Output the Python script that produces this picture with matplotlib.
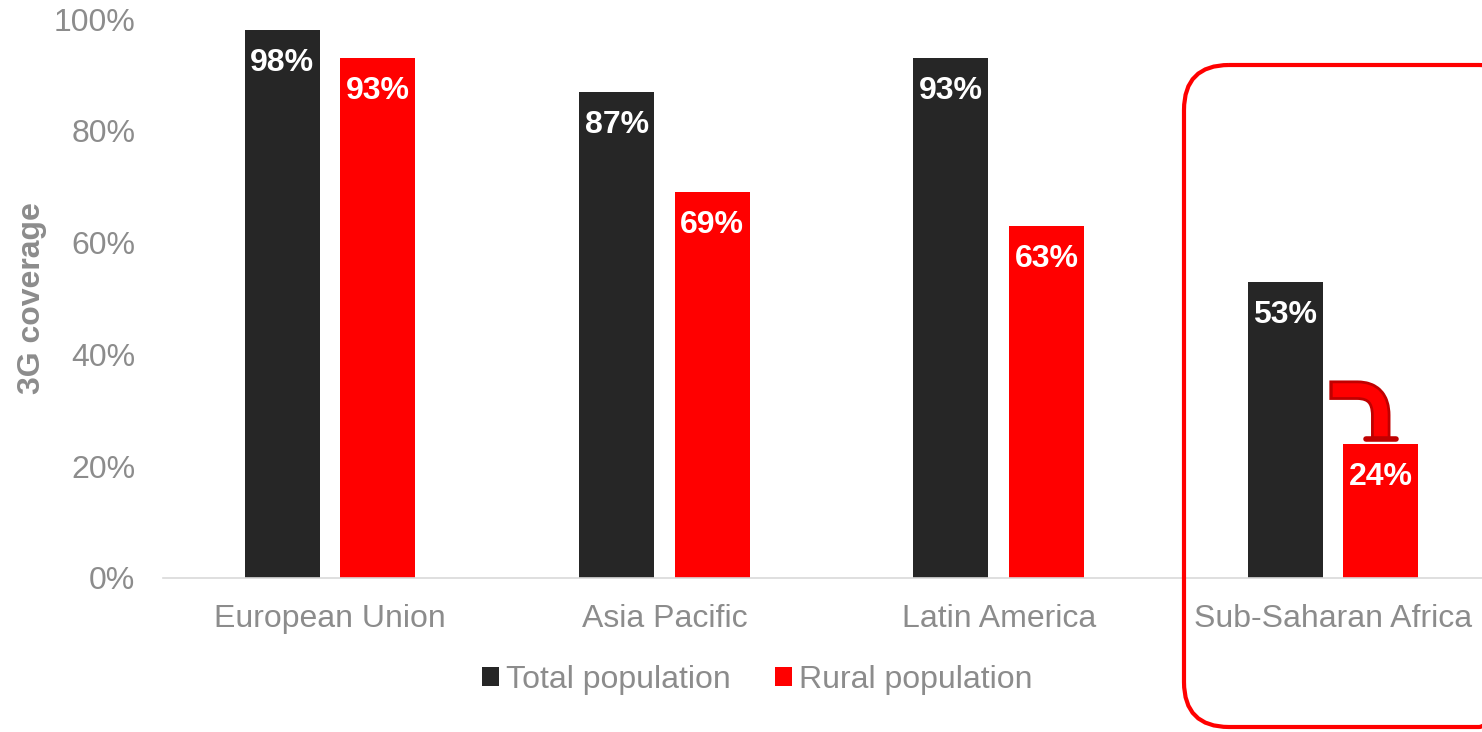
import numpy as np
from matplotlib import pyplot as plt
from matplotlib.patches import FancyBboxPatch
from matplotlib.path import Path
from matplotlib.patches import PathPatch

plt.rcParams['font.family'] = ['Liberation Sans', 'DejaVu Sans']

regions = ['European Union', 'Asia Pacific', 'Latin America', 'Sub-Saharan Africa']
total_pop = [98, 87, 93, 53]
rural_pop = [93, 69, 63, 24]

grey = '#8c8c8c'
dark = '#262626'
red = '#ff0000'

fig = plt.figure(figsize=(14.82, 7.32), dpi=100)
ax = fig.add_axes([0.11, 0.2104, 0.9022, 0.7636])

x = np.arange(len(regions))
w = 0.2245
off = 0.143
b1 = ax.bar(x - off, total_pop, w, color=dark, label='Total population')
b2 = ax.bar(x + off, rural_pop, w, color=red, label='Rural population')

for bars, vals in [(b1, total_pop), (b2, rural_pop)]:
    for b, v in zip(bars, vals):
        ax.annotate('%d%%' % v, (b.get_x() + b.get_width() / 2, v),
                    xytext=(0, -13), textcoords='offset points',
                    ha='center', va='top', color='white',
                    fontsize=23, fontweight='bold')

ax.set_xlim(-0.5, 3.5)
ax.set_ylim(0, 100)
ax.set_yticks(range(0, 101, 20))
ax.set_yticklabels(['%d%%' % t for t in range(0, 101, 20)])
ax.set_xticks(x)
ax.set_xticklabels(regions)
ax.tick_params(axis='both', length=0, labelsize=23, colors=grey)
ax.tick_params(axis='x', pad=19)
ax.tick_params(axis='y', pad=20)
for s in ['top', 'right', 'left']:
    ax.spines[s].set_visible(False)
ax.spines['bottom'].set_color('#d9d9d9')
ax.spines['bottom'].set_linewidth(1.2)
fig.text(32 / 1482, 1 - 298 / 732, '3G coverage', rotation=90, ha='center', va='center',
         fontsize=23, fontweight='bold', color=grey)

leg = fig.legend(loc='center', bbox_to_anchor=(0.511, 0.071), ncol=2,
                 frameon=False, fontsize=23, handlelength=0.53, handleheight=0.53,
                 handletextpad=0.2, columnspacing=1.4)
for t in leg.get_texts():
    t.set_color(grey)

# bent arrow from total bar down to the rural bar (Sub-Saharan Africa)
i = 3
xs = x[i] - off + w / 2 + 0.03
xe = x[i] + off
ytop = 33.6
yend = rural_pop[i] + 0.6
rx, ry = 0.07, 4.5
verts = [(xs, ytop), (xe - rx, ytop), (xe, ytop), (xe, ytop - ry), (xe, yend)]
codes = [Path.MOVETO, Path.LINETO, Path.CURVE3, Path.CURVE3, Path.LINETO]
outer = Path([(xs - 0.01, ytop)] + verts[1:], codes)
ax.add_patch(PathPatch(outer, fill=False, lw=14, edgecolor='#c00000', capstyle='butt',
                       joinstyle='round', zorder=3))
ax.add_patch(PathPatch(Path(verts, codes), fill=False, lw=10, edgecolor=red,
                       capstyle='butt', joinstyle='round', zorder=4))
ax.plot([xe - 0.045, xe + 0.045], [yend + 0.3, yend + 0.3], color='#c00000', lw=4,
        solid_capstyle='round', zorder=5)

# highlight box in pixel coordinates
ov = fig.add_axes([0, 0, 1, 1], zorder=5)
ov.set_xlim(0, 1482)
ov.set_ylim(732, 0)
ov.axis('off')
ov.patch.set_alpha(0)
ov.add_patch(FancyBboxPatch((1184, 65), 340, 662,
                            boxstyle='round,pad=0,rounding_size=45',
                            fill=False, edgecolor=red, lw=3))

fig.savefig('out.png', dpi=100)
